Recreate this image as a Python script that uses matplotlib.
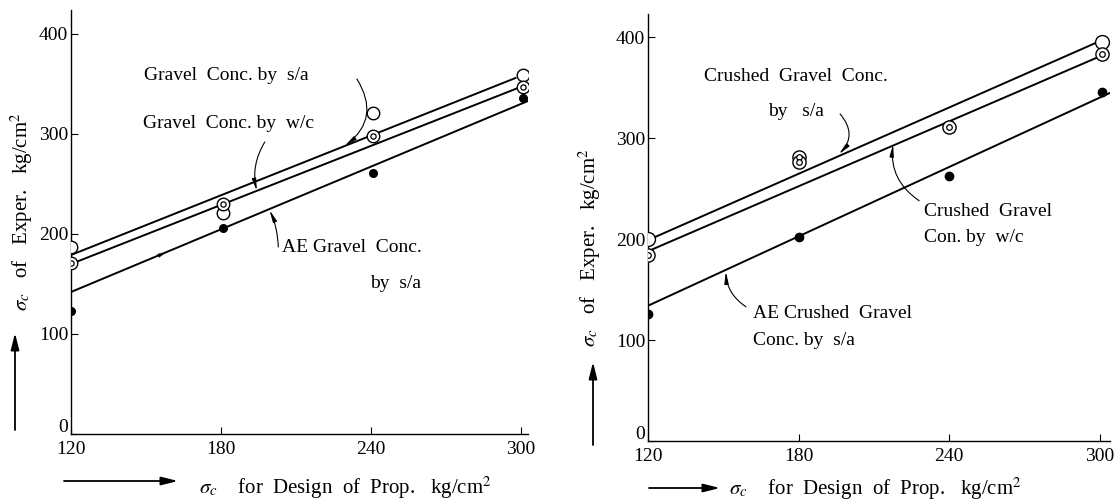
import matplotlib.pyplot as plt
from matplotlib.patches import FancyArrowPatch
from matplotlib.transforms import ScaledTranslation

plt.rcParams['font.family'] = ['Liberation Serif', 'DejaVu Serif']
plt.rcParams['mathtext.fontset'] = 'stix'

W, H = 1114, 503

# left: gravel concrete, strength of experiment (kg/cm^2)
gr_x = [120, 181, 241, 301]
gr_sa = [187, 221, 321, 359]      # open circles, by s/a
gr_wc = [171, 230, 298, 347]      # double circles, by w/c
gr_ae = [123, 206, 261, 336]      # filled, AE by s/a
gr_sa_fit = ([120, 298], [179, 356])
gr_wc_fit = ([120, 300], [170, 347])
gr_ae_fit = ([120, 303], [142, 333])

# right: crushed gravel concrete
cr_open_x = [120, 301]
cr_open = [200, 395]
cr_dbl_x = [120, 180, 180, 240, 301]
cr_dbl = [184, 281, 276, 311, 383]
cr_ae_x = [120, 180, 240, 301]
cr_ae = [126, 202, 263, 346]
cr_sa_fit = ([120, 298], [199, 394])
cr_wc_fit = ([120, 299], [188, 380])
cr_ae_fit = ([120, 305], [134, 346])

yticks = [0, 100, 200, 300, 400]
xticks = [120, 180, 240, 300]
FS = 14


def px_box(x0, x1, ytop, ybot):
    return [x0 / W, 1 - ybot / H, (x1 - x0) / W, (ybot - ytop) / H]


def setup(ax, xmax, ymax):
    ax.set_xlim(120, xmax)
    ax.set_ylim(0, ymax)
    for s in ['top', 'right']:
        ax.spines[s].set_visible(False)
    for s in ['left', 'bottom']:
        ax.spines[s].set_linewidth(1.0)
    ax.set_xticks(xticks)
    ax.set_yticks(yticks)
    ax.tick_params(direction='in', length=5, width=0.8, labelsize=FS)
    ax.tick_params(axis='y', pad=2)
    ax.tick_params(axis='x', pad=5)
    ax.patch.set_alpha(0)
    # lift the "0" label clear of the "120" below it
    zero = ax.get_yticklabels()[0]
    zero.set_transform(zero.get_transform() + ScaledTranslation(0, 6 / 72, fig.dpi_scale_trans))


def open_pts(ax, x, y, ms):
    ax.plot(x, y, ls='', marker='o', ms=ms, mfc='white', mec='black', mew=1.0, zorder=4)


def double_pts(ax, x, y, ms):
    ax.plot(x, y, ls='', marker='o', ms=ms, mfc='white', mec='black', mew=1.0, zorder=4)
    ax.plot(x, y, ls='', marker='o', ms=ms * 0.42, mfc='white', mec='black', mew=0.9, zorder=5)


def filled_pts(ax, x, y, ms):
    ax.plot(x, y, ls='', marker='o', ms=ms, mfc='black', mec='black', zorder=4)


def leader(ax, xy, xytext, rad):
    ax.annotate('', xy=xy, xytext=xytext,
                arrowprops=dict(arrowstyle='-|>,head_length=0.7,head_width=0.12',
                                connectionstyle='arc3,rad=%s' % rad,
                                lw=0.8, color='black', shrinkA=0, shrinkB=0))


fig = plt.figure(figsize=(W / 100, H / 100), dpi=100)

# ---- gravel concrete
ax1 = fig.add_axes(px_box(71, 528, 10, 434))
setup(ax1, 303, 424)
for fx, fy in [gr_sa_fit, gr_wc_fit, gr_ae_fit]:
    ax1.plot(fx, fy, color='black', lw=1.4, zorder=2)
open_pts(ax1, gr_x, gr_sa, 9)
double_pts(ax1, gr_x, gr_wc, 9)
filled_pts(ax1, gr_x, gr_ae, 5.5)

ax1.text(182, 359, 'Gravel  Conc. by  s/a', fontsize=FS, ha='center', va='center')
leader(ax1, (229.6, 288), (234.5, 355), -0.45)
ax1.text(183, 311, 'Gravel  Conc. by  w/c', fontsize=FS, ha='center', va='center')
leader(ax1, (194.4, 243), (197.6, 292), 0.2)
ax1.text(204.5, 186, 'AE Gravel  Conc.', fontsize=FS, ha='left', va='center')
ax1.text(250, 150, 'by  s/a', fontsize=FS, ha='center', va='center')
leader(ax1, (199.5, 224), (203, 187), 0.1)
ax1.annotate('', xy=(158, 181.5), xytext=(150, 173),
             arrowprops=dict(arrowstyle='-|>,head_length=0.6,head_width=0.15',
                             lw=0.01, color='black', shrinkA=0, shrinkB=0))

# ---- crushed gravel concrete
ax2 = fig.add_axes(px_box(648, 1110, 14, 441))
setup(ax2, 304, 423)
for fx, fy in [cr_sa_fit, cr_wc_fit, cr_ae_fit]:
    ax2.plot(fx, fy, color='black', lw=1.4, zorder=2)
open_pts(ax2, cr_open_x, cr_open, 10)
double_pts(ax2, cr_dbl_x, cr_dbl, 9.5)
filled_pts(ax2, cr_ae_x, cr_ae, 6)

ax2.text(142.5, 361, 'Crushed  Gravel  Conc.', fontsize=FS, ha='left', va='center')
ax2.text(168, 326, 'by   s/a', fontsize=FS, ha='left', va='center')
leader(ax2, (196, 284), (196.5, 324), -0.45)
ax2.text(230, 227, 'Crushed  Gravel', fontsize=FS, ha='left', va='center')
ax2.text(230, 202, 'Con. by  w/c', fontsize=FS, ha='left', va='center')
leader(ax2, (217.6, 294), (228, 238), -0.3)
ax2.text(162, 126, 'AE Crushed  Gravel', fontsize=FS, ha='left', va='center')
ax2.text(162, 100, 'Conc. by  s/a', fontsize=FS, ha='left', va='center')
leader(ax2, (151, 168), (159, 133), -0.25)

# ---- axis titles with direction arrows
ylab = r'$\sigma_c$   of   Exper.   kg/cm$^2$'
xlab = r'$\sigma_c$    for  Design  of  Prop.   kg/cm$^2$'
fig.text(22 / W, 1 - 212 / H, ylab, rotation=90, fontsize=15, ha='center', va='center')
fig.text(590 / W, 1 - 248 / H, ylab, rotation=90, fontsize=15, ha='center', va='center')
fig.text(345 / W, 1 - 488 / H, xlab, fontsize=15, ha='center', va='center')
fig.text(875 / W, 1 - 489 / H, xlab, fontsize=15, ha='center', va='center')

for start, end in [((15, 430), (15, 333)), ((593, 445), (593, 362)),
                   ((64, 481), (178, 481)), ((649, 488), (720, 488))]:
    fig.add_artist(FancyArrowPatch(
        (start[0] / W, 1 - start[1] / H), (end[0] / W, 1 - end[1] / H),
        transform=fig.transFigure, arrowstyle='-|>,head_length=1.0,head_width=0.25',
        mutation_scale=10, lw=1.3, color='black', shrinkA=0, shrinkB=0))

fig.savefig('out.png', dpi=100)
